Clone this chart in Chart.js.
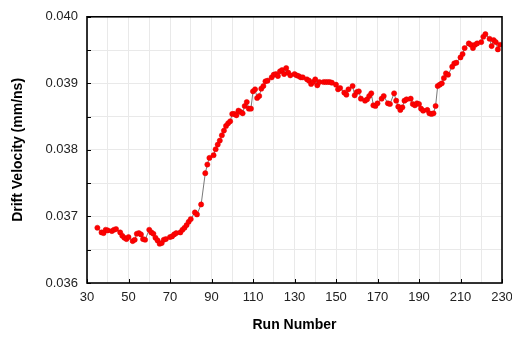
<!DOCTYPE html>
<html><head><meta charset="utf-8">
<script src="https://cdn.jsdelivr.net/npm/chart.js@4/dist/chart.umd.min.js"></script>
<style>html,body{margin:0;padding:0;background:#fff}</style>
</head>
<body>
<canvas id="c" width="512" height="341"></canvas>
<script>
const runs = [35,37,38,39,40,42,43,44,46,47,48,49,50,52,53,54,55,56,57,58,60,61,62,63,64,65,66,67,68,70,71,72,73,75,76,77,78,79,80,82,83,85,87,88,89,91,92,93,94,95,96,97,98,99,100,101,102,103,104,105,106,107,108,109,110,111,112,113,114,115,116,117,119,120,121,122,123,124,125,126,127,128,130,131,132,133,134,136,137,138,139,140,141,142,144,145,146,147,148,150,151,152,154,155,156,158,159,160,161,162,164,165,166,167,168,169,170,172,173,175,176,178,179,180,181,182,183,184,186,187,188,189,190,191,192,194,195,196,197,198,199,200,201,202,203,204,206,207,208,210,211,212,214,215,216,217,218,220,221,222,224,225,226,227,228,229];
const velocity = [0.03683,0.03676,0.03675,0.03680,0.03679,0.03678,0.03680,0.03681,0.03676,0.03671,0.03668,0.03666,0.03669,0.03663,0.03665,0.03674,0.03675,0.03673,0.03666,0.03665,0.03680,0.03676,0.03674,0.03668,0.03664,0.03659,0.03660,0.03665,0.03666,0.03669,0.03670,0.03673,0.03675,0.03676,0.03680,0.03683,0.03687,0.03692,0.03696,0.03706,0.03703,0.03718,0.03765,0.03778,0.03788,0.03792,0.03801,0.03808,0.03814,0.03822,0.03829,0.03836,0.03840,0.03843,0.03854,0.03854,0.03852,0.03859,0.03857,0.03855,0.03866,0.03872,0.03862,0.03862,0.03888,0.03891,0.03878,0.03881,0.03892,0.03896,0.03903,0.03904,0.03909,0.03913,0.03914,0.03911,0.03918,0.03920,0.03914,0.03923,0.03916,0.03912,0.03914,0.03912,0.03911,0.03909,0.03909,0.03906,0.03904,0.03899,0.03902,0.03906,0.03897,0.03902,0.03902,0.03902,0.03902,0.03902,0.03901,0.03898,0.03891,0.03893,0.03886,0.03883,0.03891,0.03896,0.03882,0.03887,0.03888,0.03877,0.03874,0.03876,0.03881,0.03885,0.03867,0.03866,0.03870,0.03877,0.03881,0.03870,0.03869,0.03885,0.03874,0.03865,0.03860,0.03864,0.03874,0.03876,0.03877,0.03869,0.03867,0.03870,0.03869,0.03862,0.03859,0.03860,0.03855,0.03854,0.03855,0.03866,0.03896,0.03898,0.03900,0.03908,0.03915,0.03913,0.03925,0.03930,0.03931,0.03939,0.03944,0.03953,0.03960,0.03958,0.03953,0.03958,0.03960,0.03962,0.03970,0.03974,0.03967,0.03956,0.03965,0.03962,0.03951,0.03958];
const xTickLabels = ['30','50','70','90','110','130','150','170','190','210','230'];
const yTickLabels = ['0.036','0.037','0.038','0.039','0.040'];

const points = runs.map((r, i) => ({x: r, y: velocity[i]}));

const framePlugin = {
  id: 'frame',
  afterDraw(chart) {
    const {ctx, chartArea: a, scales: {x, y}} = chart;
    ctx.save();
    ctx.strokeStyle = '#000';
    ctx.lineWidth = 1;
    // inner ticks on x axis (labelled values)
    ctx.beginPath();
    xTickLabels.forEach(t => {
      const px = Math.round(x.getPixelForValue(Number(t))) + 0.5;
      ctx.moveTo(px, a.bottom);
      ctx.lineTo(px, a.bottom - 4);
    });
    // inner ticks on y axis (every 0.0005)
    y.ticks.forEach(t => {
      const py = Math.round(y.getPixelForValue(t.value)) + 0.5;
      ctx.moveTo(a.left, py);
      ctx.lineTo(a.left + 4, py);
    });
    ctx.stroke();
    ctx.lineWidth = 1.6;
    ctx.strokeRect(a.left, a.top, a.right - a.left, a.bottom - a.top);
    ctx.restore();
  }
};

const tickFont = {family: '"Liberation Sans", Arial, sans-serif', size: 13};
const titleFont = {family: '"Liberation Sans", Arial, sans-serif', size: 14, weight: 'bold'};

new Chart(document.getElementById('c'), {
  type: 'scatter',
  data: {
    datasets: [{
      data: points,
      showLine: true,
      borderColor: '#555',
      borderWidth: 0.8,
      pointRadius: 2.6,
      pointBackgroundColor: '#ff0000',
      pointBorderColor: '#e00000',
      pointBorderWidth: 0.5
    }]
  },
  options: {
    responsive: false,
    animation: false,
    devicePixelRatio: 1,
    layout: {padding: {top: 13, right: 10, left: 0, bottom: 0}},
    plugins: {legend: {display: false}, tooltip: {enabled: false}},
    scales: {
      x: {
        type: 'linear',
        min: 30, max: 230,
        ticks: {
          stepSize: 10,
          autoSkip: false,
          maxRotation: 0,
          padding: 7,
          color: '#222',
          font: tickFont,
          callback: v => xTickLabels.includes(String(Math.round(v))) && Math.abs(v - Math.round(v)) < 1e-6 ? String(Math.round(v)) : ''
        },
        grid: {color: '#e9e9e9', drawTicks: false, lineWidth: 1},
        border: {display: false},
        title: {display: true, text: 'Run Number', color: '#000', font: titleFont, padding: {top: 0, bottom: 7}},
        afterFit: s => { s.height = 58; s.paddingLeft = 0; s.paddingRight = 0; }
      },
      y: {
        min: 0.036, max: 0.040,
        ticks: {
          stepSize: 0.0005,
          padding: 9,
          color: '#222',
          font: tickFont,
          callback: v => { const s = v.toFixed(3); return (yTickLabels.includes(s) && Math.abs(v * 1000 - Math.round(v * 1000)) < 1e-6) ? s : ''; }
        },
        grid: {color: '#e9e9e9', drawTicks: false, lineWidth: 1},
        border: {display: false},
        title: {display: true, text: 'Drift Velocity (mm/ns)', color: '#000', font: titleFont, padding: {top: 10, bottom: 0}},
        afterFit: s => { s.width = 87; }
      }
    }
  },
  plugins: [framePlugin]
});
</script>
</body></html>
